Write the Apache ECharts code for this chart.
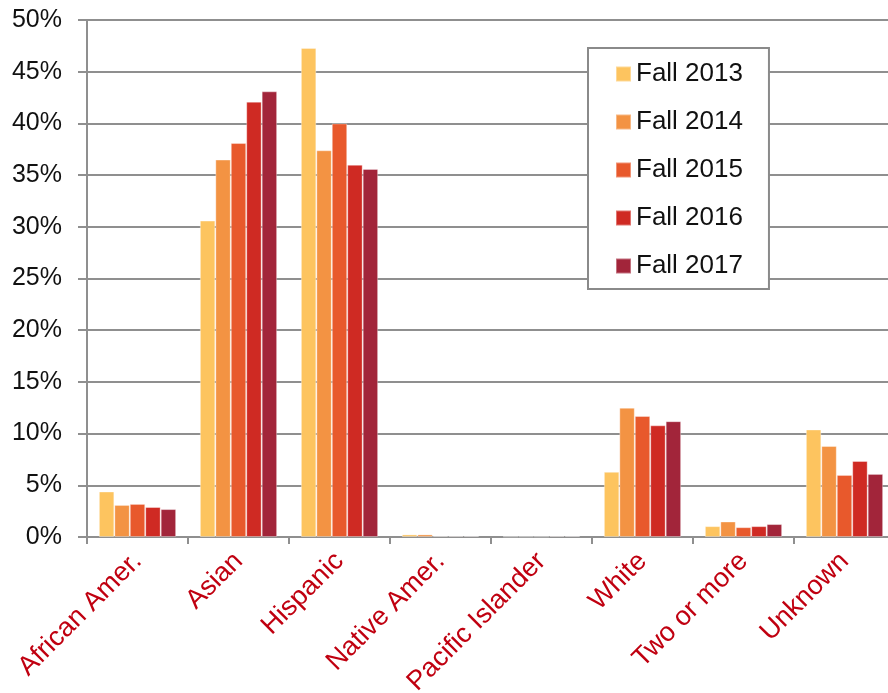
<!DOCTYPE html>
<html>
<head>
<meta charset="utf-8">
<script src="https://cdn.jsdelivr.net/npm/echarts@6/dist/echarts.min.js"></script>
<style>html,body{margin:0;padding:0;background:#fff}#c{width:888px;height:693px}</style>
</head>
<body>
<div id="c"></div>
<script>
const categories = ['African Amer.', 'Asian', 'Hispanic', 'Native Amer.', 'Pacific Islander', 'White', 'Two or more', 'Unknown'];
const seriesNames = ['Fall 2013', 'Fall 2014', 'Fall 2015', 'Fall 2016', 'Fall 2017'];
const fall2013 = [4.4, 30.6, 47.3, 0.25, 0.05, 6.3, 1.05, 10.4];
const fall2014 = [3.1, 36.5, 37.4, 0.25, 0.05, 12.5, 1.5, 8.8];
const fall2015 = [3.2, 38.1, 40.0, 0.1, 0.05, 11.7, 0.95, 6.0];
const fall2016 = [2.9, 42.1, 36.0, 0.1, 0.1, 10.8, 1.05, 7.35];
const fall2017 = [2.7, 43.1, 35.6, 0.1, 0.1, 11.2, 1.25, 6.1];
const yTicks = { min: 0, max: 50, interval: 5 };

const colors = ['#FDC45F', '#F39343', '#E8592C', '#CF2A23', '#A2253A'];
const values = [fall2013, fall2014, fall2015, fall2016, fall2017];
const font = '"Liberation Sans", Arial, sans-serif';
const gray = '#8f8f8f';

const chart = echarts.init(document.getElementById('c'), null, { renderer: 'canvas' });
chart.setOption({
  animation: false,
  color: colors,
  grid: { left: 87, right: -7, top: 20, bottom: 156, containLabel: false, outerBoundsMode: 'none' },
  legend: {
    orient: 'vertical',
    left: 588, top: 48,
    padding: [13, 26, 10, 27],
    itemWidth: 15, itemHeight: 15, itemGap: 22,
    icon: 'rect',
    borderColor: '#8a8a8a', borderWidth: 2, backgroundColor: '#fff',
    textStyle: { fontFamily: font, fontSize: 26, color: '#111', lineHeight: 26 },
    data: seriesNames
  },
  xAxis: {
    type: 'category',
    data: categories,
    axisLine: { lineStyle: { color: gray, width: 2 } },
    axisTick: { show: true, length: 7, lineStyle: { color: gray, width: 2 } },
    axisLabel: { rotate: 45, interval: 0, margin: 20, color: '#C00010', fontFamily: font, fontSize: 27 }
  },
  yAxis: {
    type: 'value',
    min: yTicks.min, max: yTicks.max, interval: yTicks.interval,
    axisLine: { show: true, lineStyle: { color: gray, width: 2 } },
    axisTick: { show: true, length: 9, lineStyle: { color: gray, width: 2 } },
    splitLine: { lineStyle: { color: gray, width: 2 } },
    axisLabel: { formatter: '{value}%', margin: 25, color: '#111', fontFamily: font, fontSize: 25 }
  },
  series: seriesNames.map((n, i) => ({
    name: n, type: 'bar', data: values[i],
    barGap: '0%', barCategoryGap: '23.5%',
    itemStyle: { color: colors[i], borderColor: 'rgba(255,255,255,0.35)', borderWidth: 1 }
  }))
});
</script>
</body>
</html>
